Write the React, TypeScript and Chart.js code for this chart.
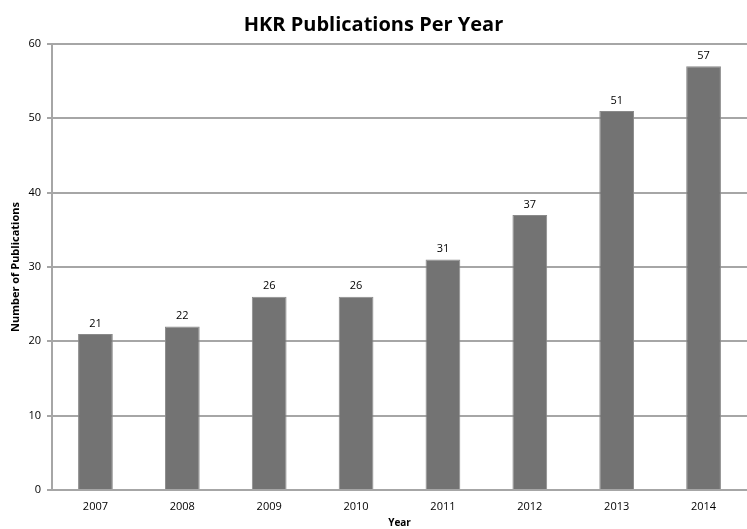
import React, { useEffect, useRef } from "react";
import { Chart, registerables } from "chart.js";

Chart.register(...registerables);

const categories = ["2007", "2008", "2009", "2010", "2011", "2012", "2013", "2014"];
const publications = [21, 22, 26, 26, 31, 37, 51, 57];
const chartTitle = "HKR Publications Per Year";
const xTitle = "Year";
const yTitle = "Number of Publications";

const FONT = "'Open Sans', Lato, sans-serif";

const valueLabels = {
  id: "valueLabels",
  afterDatasetsDraw(chart: any) {
    const ctx = chart.ctx;
    const meta = chart.getDatasetMeta(0);
    ctx.save();
    ctx.font = `11px ${FONT}`;
    ctx.fillStyle = "#000";
    ctx.textAlign = "center";
    ctx.textBaseline = "bottom";
    meta.data.forEach((bar: any, i: number) => {
      ctx.fillText(String(chart.data.datasets[0].data[i]), bar.x, bar.y - 5);
    });
    ctx.restore();
  },
};

export default function App() {
  const ref = useRef<HTMLCanvasElement>(null);
  useEffect(() => {
    const chart = new Chart(ref.current!, {
      type: "bar",
      data: {
        labels: categories,
        datasets: [
          {
            data: publications,
            backgroundColor: "#737373",
            borderColor: "#8a8a8a",
            borderWidth: 1,
            categoryPercentage: 1,
            barPercentage: 0.4,
          },
        ],
      },
      options: {
        animation: false,
        responsive: false,
        layout: { padding: { left: 0, right: 0, top: 0, bottom: 0 } },
        plugins: {
          legend: { display: false },
          tooltip: { enabled: false },
          title: {
            display: true,
            text: chartTitle,
            color: "#000",
            font: { family: FONT, size: 20, weight: "bold" },
            padding: { top: 13, bottom: 7 },
          },
        },
        scales: {
          x: {
            grid: { display: false, drawTicks: false },
            border: { display: true, color: "#a6a6a6", width: 2 },
            ticks: { color: "#000", font: { family: FONT, size: 11 }, padding: 10, maxRotation: 0 },
            title: {
              display: true,
              text: xTitle,
              color: "#000",
              font: { family: FONT, size: 10, weight: "bold" },
              padding: { top: 0, bottom: 0 },
            },
            afterFit: (s: any) => {
              s.height = 39;
            },
          },
          y: {
            min: 0,
            max: 60,
            ticks: { stepSize: 10, color: "#000", font: { family: FONT, size: 11 }, padding: 6 },
            grid: { color: "#a6a6a6", lineWidth: 2, drawTicks: true, tickLength: 5 },
            border: { display: true, color: "#a6a6a6", width: 2 },
            title: {
              display: true,
              text: yTitle,
              color: "#000",
              font: { family: FONT, size: 11, weight: "bold" },
              padding: { top: 9, bottom: 0 },
            },
            afterFit: (s: any) => {
              s.width = 52;
            },
          },
        },
      },
      plugins: [valueLabels],
    });
    return () => chart.destroy();
  }, []);
  return (
    <div style={{ position: "fixed", left: 0, top: 0, width: 747, height: 529, background: "#fff" }}>
      <canvas ref={ref} width={747} height={529} style={{ width: 747, height: 529 }} />
    </div>
  );
}
